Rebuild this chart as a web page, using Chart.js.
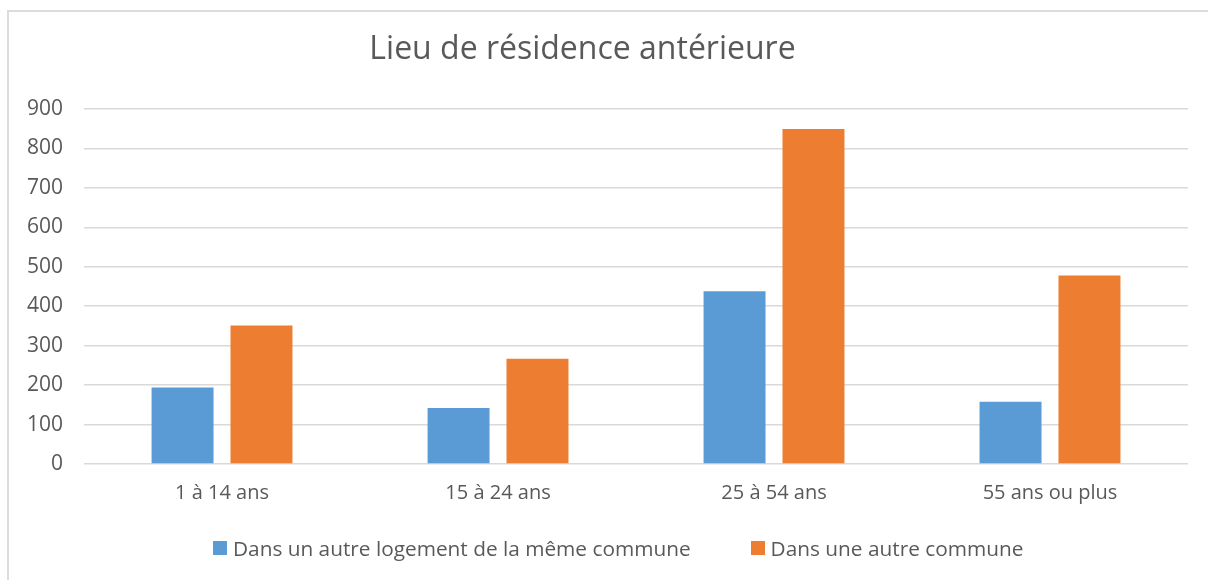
<!DOCTYPE html>
<html lang="fr">
<head>
    <meta charset="UTF-8" />
    <title>Lieu de résidence antérieure</title>
    <script src="https://cdn.jsdelivr.net/npm/chart.js"></script>
    <style>
        body {
            margin: 0;
            width: 1208px;
            height: 580px;
            overflow: hidden;
            background: #fff;
            font-family: "Open Sans", sans-serif;
            color: #595959;
        }
        .frame {
            position: absolute;
            left: 7px;
            top: 10px;
            width: 1300px;
            height: 700px;
            border: 2px solid #dcdcdc;
        }
        .chart-box {
            position: absolute;
            left: 0;
            top: 0;
            width: 1208px;
            height: 580px;
        }
        h1 {
            position: absolute;
            left: 0;
            top: 27px;
            width: 1165px;
            margin: 0;
            text-align: center;
            font-size: 32px;
            line-height: 40px;
            font-weight: normal;
            color: #595959;
        }
        #legend {
            position: absolute;
            left: 213px;
            top: 538px;
            display: flex;
            align-items: center;
            gap: 60px;
            font-size: 20.8px;
            line-height: 20px;
        }
        #legend span.item {
            display: flex;
            align-items: center;
            gap: 6px;
        }
        #legend i {
            display: inline-block;
            width: 14px;
            height: 14px;
        }
    </style>
</head>
<body>
    <div class="frame"></div>
    <div class="chart-box">
        <canvas id="residenceChart" width="1208" height="580"></canvas>
    </div>
    <h1>Lieu de résidence antérieure</h1>
    <div id="legend"></div>

<script>
  // Tranches d'âge
  const categories = ['1 à 14 ans', '15 à 24 ans', '25 à 54 ans', '55 ans ou plus'];

  // Séries
  const memeCommune = [194, 142, 438, 158];
  const autreCommune = [351, 267, 849, 478];

  const seriesNames = ['Dans un autre logement de la même commune', 'Dans une autre commune'];

  const ctx = document.getElementById('residenceChart').getContext('2d');
  const chart = new Chart(ctx, {
    type: 'bar',
    data: {
      labels: categories,
      datasets: [{
        label: seriesNames[0],
        data: memeCommune,
        backgroundColor: '#5B9BD5',
        borderWidth: 0
      }, {
        label: seriesNames[1],
        data: autreCommune,
        backgroundColor: '#ED7D31',
        borderWidth: 0
      }]
    },
    options: {
      responsive: false,
      animation: false,
      categoryPercentage: 0.572,
      barPercentage: 0.785,
      layout: {
        padding: { top: 109, left: 6, right: 20, bottom: 66 }
      },
      plugins: {
        legend: { display: false },
        title: { display: false },
        tooltip: { enabled: false }
      },
      scales: {
        x: {
          grid: { display: false },
          border: { display: false },
          ticks: {
            color: '#595959',
            padding: 9,
            font: { family: 'Open Sans', size: 20 }
          }
        },
        y: {
          min: 0,
          max: 900,
          border: { display: false },
          grid: { color: '#d9d9d9', lineWidth: 1.5, drawTicks: false },
          ticks: {
            stepSize: 100,
            color: '#595959',
            padding: 21,
            font: { family: 'Open Sans', size: 21 }
          }
        }
      }
    }
  });

  // Légende HTML construite à partir des jeux de données
  const legendEl = document.getElementById('legend');
  chart.options.plugins.legend.labels.generateLabels(chart).forEach(item => {
    const span = document.createElement('span');
    span.className = 'item';
    const box = document.createElement('i');
    box.style.background = item.fillStyle;
    span.appendChild(box);
    span.appendChild(document.createTextNode(item.text));
    legendEl.appendChild(span);
  });
</script>
</body>
</html>
